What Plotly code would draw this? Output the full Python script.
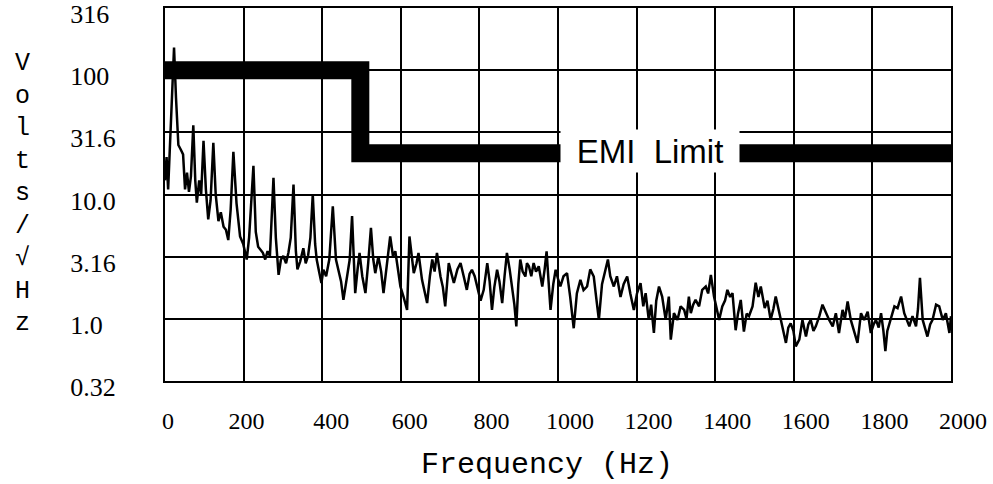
import math
import plotly.graph_objects as go

# ---------------- data ----------------
freq_hz = [
    0, 4, 8, 13, 18, 23, 28, 34, 40, 46, 51, 56, 61, 66, 72, 77, 81, 87, 92, 98,
    104, 110, 116, 123, 129, 136, 142, 149, 155, 161, 167, 174, 182, 191, 199, 208,
    214, 219, 225, 231, 237, 243, 249, 255, 261, 267, 271, 276, 282, 289, 295, 301,
    308, 314, 320, 327, 333, 337, 344, 352, 358, 364, 370, 376, 382, 386, 392, 398,
    403, 410, 418, 427, 435, 442, 448, 454, 463, 470, 476, 484, 490, 495, 502, 510,
    517, 524, 530, 535, 543, 550, 556, 565, 573, 580, 586, 592, 599, 607, 616, 622,
    628, 633, 640, 645, 654, 660, 667, 674, 680, 686, 692, 701, 707, 713, 722, 729,
    735, 744, 752, 760, 768, 775, 781, 788, 794, 803, 811,
    820, 826, 832, 838, 845, 851, 858, 864, 870, 877, 883, 889, 894, 899, 904, 910,
    917, 921, 926, 932, 938, 944, 951, 955, 960, 966, 971, 976, 981, 988, 994, 1000,
    1006, 1014, 1023, 1031, 1040, 1048, 1057, 1065, 1074, 1082, 1091, 1097, 1104,
    1112, 1121, 1127, 1133, 1142, 1150, 1159, 1167, 1176, 1184, 1193, 1201, 1210,
    1217, 1223, 1231, 1237, 1244, 1250, 1257, 1265, 1274, 1282, 1287, 1295, 1304,
    1312, 1321, 1327, 1333, 1338, 1344, 1350, 1359, 1367, 1376, 1382, 1389, 1397,
    1404, 1410, 1418, 1425, 1431, 1438, 1444, 1452, 1458, 1465, 1473, 1480, 1486,
    1495, 1503, 1510, 1516, 1526, 1533, 1541, 1548, 1554, 1561, 1567, 1574, 1580,
    1586, 1592, 1599, 1605,
    1614, 1622, 1631, 1637, 1643, 1650, 1656, 1665, 1673, 1682, 1690, 1699, 1707,
    1715, 1724, 1730, 1737, 1745, 1754, 1762, 1771, 1779, 1788, 1796, 1803, 1809,
    1816, 1822, 1828, 1833, 1838, 1843, 1850, 1856, 1864, 1873, 1881, 1887, 1894,
    1902, 1911, 1916, 1921, 1928, 1934, 1940, 1947, 1953, 1962, 1970, 1979, 1987,
    1996, 2000,
]

volts_per_rthz = [
    13, 20, 11, 24, 60, 152, 60, 25, 23, 21, 11, 15, 10.5, 14, 36, 13, 8.6, 13, 10, 27,
    11, 6.3, 9, 26, 10, 6.1, 7.2, 5.5, 5.2, 4.3, 7.5, 22, 8.5, 4.6, 4.0, 3.0,
    4.5, 8, 17, 5, 3.8, 3.6, 3.4, 3.0, 3.5, 3.2, 6, 13.6, 4.5, 2.26, 3.0, 3.2,
    2.8, 3.4, 4.5, 12, 3.5, 2.5, 2.9, 3.7, 2.8, 3.2, 4.5, 10, 4, 3.0, 2.4, 1.94,
    2.48, 2.2, 3.0, 8.05, 3.0, 2.33, 2.0, 1.42, 2.19, 3.0, 6.7, 1.61, 2.5, 3.39, 2.2, 1.61,
    2.8, 5.4, 3.0, 2.33, 3.18, 2.4, 1.61, 2.8, 4.6, 3.2, 3.5, 2.6, 1.82, 1.5, 1.18, 4.6,
    3.0, 2.33, 2.8, 3.39, 2.06, 1.7, 1.34, 2.2, 3.0, 2.4, 3.39, 2.19, 1.8, 1.26, 2.81, 2.3,
    1.94, 2.5, 2.81, 2.2, 1.71, 2.3, 2.48, 2.2, 1.82, 1.4, 1.71,
    2.81, 2.0, 1.18, 1.8, 2.48, 2.0, 1.34, 2.2, 3.39, 2.5, 1.82, 1.3, 0.87, 1.9, 3.0, 2.4,
    2.19, 2.8, 2.65, 2.2, 2.81, 2.4, 2.65, 2.2, 1.82, 2.5, 3.49, 2.0, 1.18, 1.9, 2.48, 2.1,
    1.82, 2.2, 2.33, 1.5, 0.84, 1.6, 2.06, 1.7, 1.82, 2.5, 2.19, 1.5, 0.98,
    1.9, 2.48, 3.0, 2.2, 1.82, 2.2, 1.5, 1.9, 2.19, 1.6, 1.18, 1.6, 1.94,
    1.26, 1.61, 0.98, 1.3, 0.77, 1.4, 1.82, 1.51, 0.98, 1.51, 0.68, 1.11, 0.98,
    1.26, 1.18, 1.0, 1.51, 1.11, 1.3, 1.42, 1.26, 1.71, 1.82, 1.6, 2.26, 1.51,
    1.2, 0.98, 1.26, 1.4, 1.71, 1.5, 1.61, 0.81, 1.1, 1.42, 0.79, 1.1, 1.05,
    1.26, 1.95, 1.5, 1.82, 1.22, 1.4, 0.98, 1.2, 1.51, 1.2, 0.98, 0.8, 0.64,
    0.85, 0.92, 0.8, 0.6,
    0.68, 0.98, 0.72, 0.9, 0.98, 0.8, 0.87, 1.05, 1.30, 1.11, 0.98, 0.87, 1.11,
    0.77, 1.18, 1.0, 1.38, 0.98, 0.77, 0.64, 1.11, 0.98, 1.14, 0.77, 0.9, 0.98,
    0.85, 1.11, 0.8, 0.55, 0.8, 0.92, 1.1, 1.26, 1.22, 1.51, 1.11, 1.0, 0.87,
    1.05, 0.87, 1.2, 2.14, 0.98, 0.85, 0.72, 0.9, 0.98, 1.30, 1.26, 0.98, 1.11,
    0.77, 1.05,
]

emi_freq = [0, 497, 497, 2000]
emi_limit = [100, 100, 21.5, 21.5]
emi_label = "EMI\u00a0\u00a0Limit"
emi_label_freq = 1234
emi_label_level = 22.2

x_tick_vals = [0, 200, 400, 600, 800, 1000, 1200, 1400, 1600, 1800, 2000]
x_tick_text = ["0\u00a0\u00a0\u00a0", "200\u00a0\u00a0\u00a0", "400\u00a0", "600\u00a0", "800",
               "1000", "1200", "1400", "1600", "1800", "2000"]
y_tick_vals = [0.3163, 1.0, 3.16, 10.0, 31.6, 100, 316.2]
y_tick_text = ["0.32", "1.0\u00a0\u00a0", "3.16", "10.0", "31.6", "100\u00a0", "316\u00a0"]

x_title = "Frequency (Hz)"
y_title_letters = ["V", "o", "l", "t", "s", "/", "\u221a", "H", "z"]

# ---------------- figure ----------------
fig = go.Figure()
fig.add_trace(go.Scatter(
    x=emi_freq, y=emi_limit, mode="lines",
    line=dict(color="black", width=18), hoverinfo="skip", showlegend=False,
))
fig.add_trace(go.Scatter(
    x=freq_hz, y=volts_per_rthz, mode="lines",
    line=dict(color="black", width=2.5), showlegend=False,
))

serif = "Liberation Serif, Times New Roman, serif"
mono = "Liberation Mono, Courier New, monospace"
sans = "Liberation Sans, Arial, sans-serif"

fig.update_layout(
    width=993, height=484,
    margin=dict(l=165, r=42, t=8, b=103, pad=0, autoexpand=False),
    paper_bgcolor="white", plot_bgcolor="white",
    showlegend=False,
    xaxis=dict(
        range=[0, 2000], tickvals=x_tick_vals, ticktext=x_tick_text,
        showgrid=True, gridcolor="black", gridwidth=2,
        showline=True, linecolor="black", linewidth=2, mirror=True,
        zeroline=False, ticks="", ticklabelstandoff=17, ticklabelshift=12,
        ticklabeloverflow="allow", automargin=False,
        tickfont=dict(family=serif, size=24, color="black"),
    ),
    yaxis=dict(
        type="log", range=[-0.5, 2.5], tickvals=y_tick_vals, ticktext=y_tick_text,
        showgrid=True, gridcolor="black", gridwidth=2,
        showline=True, linecolor="black", linewidth=2, mirror=True,
        zeroline=False, ticks="", ticklabelstandoff=42, ticklabelshift=6,
        ticklabeloverflow="allow", automargin=False,
        tickfont=dict(family=serif, size=26, color="black"),
    ),
)

fig.add_annotation(
    x=emi_label_freq, y=math.log10(emi_label_level), xref="x", yref="y",
    text=emi_label, showarrow=False, bgcolor="white",
    width=176, height=40, align="center", valign="middle",
    font=dict(family=sans, size=33, color="black"),
)
fig.add_annotation(
    x=0.486, y=-0.225, xref="paper", yref="paper",
    text=x_title, showarrow=False, xanchor="center", yanchor="middle",
    font=dict(family=mono, size=30, color="black"),
)
fig.add_annotation(
    x=-0.181, y=0.504, xref="paper", yref="paper",
    text="<br>".join(y_title_letters), showarrow=False,
    xanchor="center", yanchor="middle", align="center",
    font=dict(family=mono, size=25, color="black"),
)

fig.write_html("out.html")
